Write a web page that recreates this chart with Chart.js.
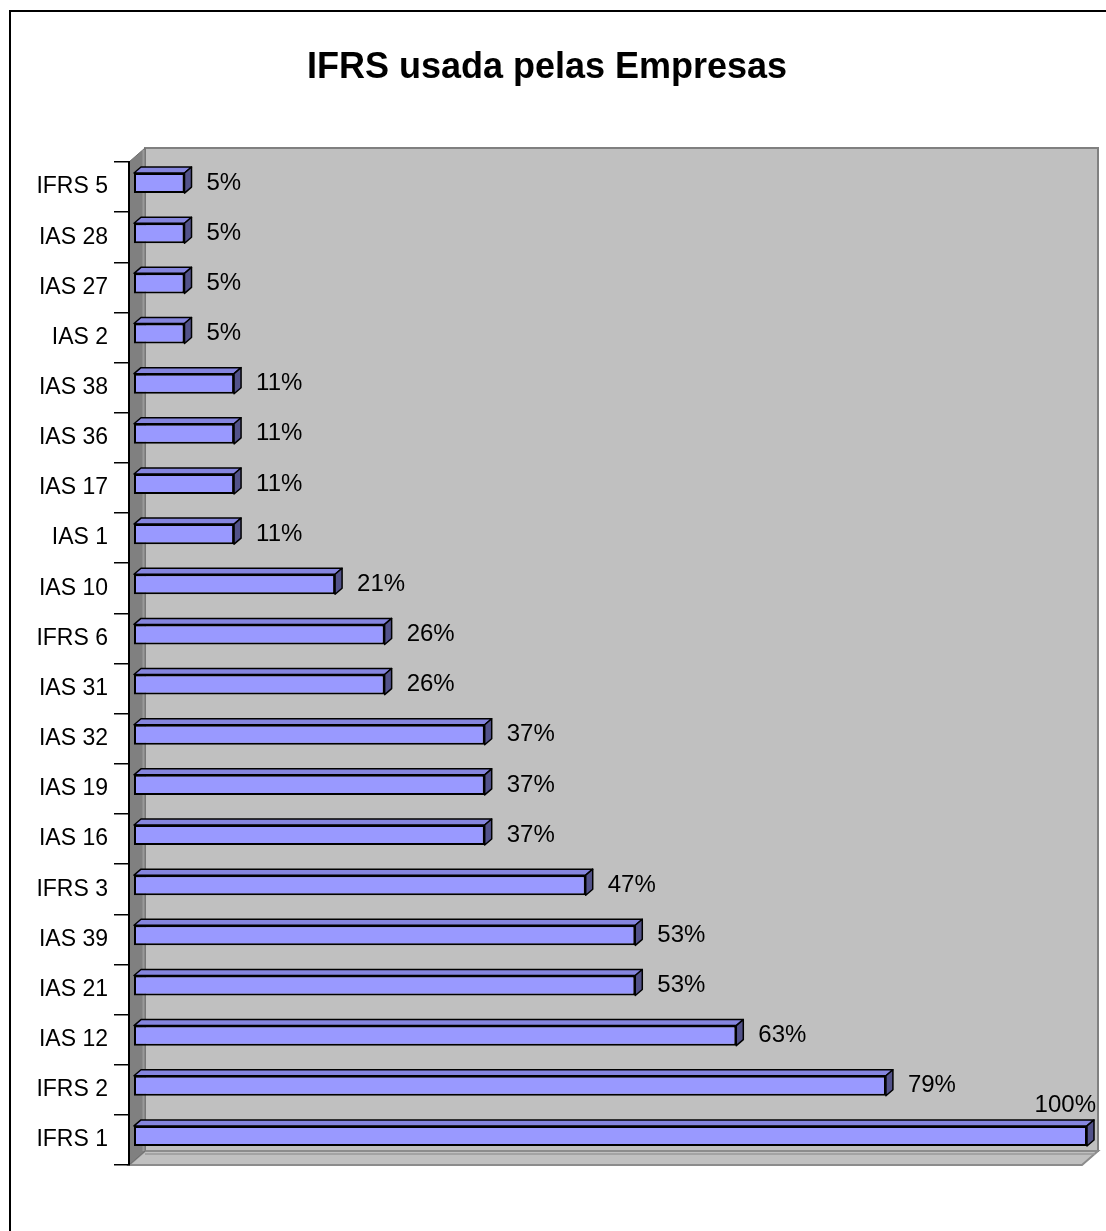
<!DOCTYPE html>
<html>
<head>
<meta charset="utf-8">
<script src="https://cdn.jsdelivr.net/npm/chart.js@4/dist/chart.umd.min.js"></script>
<style>
  html, body { margin: 0; padding: 0; background: #fff; overflow: hidden; }
  #wrap { position: absolute; left: 0; top: 0; width: 1106px; height: 1231px; }
  #frame { position: absolute; left: 9px; top: 10px; width: 1300px; height: 1400px;
           border: 2px solid #000; pointer-events: none; box-sizing: border-box; }
</style>
</head>
<body>
<div id="wrap"><canvas id="c" width="1106" height="1231"></canvas></div>
<div id="frame"></div>
<script>
// ---- data (top-to-bottom order as shown) ----
const chartTitle = 'IFRS usada pelas Empresas';
const categories = ['IFRS 5','IAS 28','IAS 27','IAS 2','IAS 38','IAS 36','IAS 17','IAS 1','IAS 10','IFRS 6',
                    'IAS 31','IAS 32','IAS 19','IAS 16','IFRS 3','IAS 39','IAS 21','IAS 12','IFRS 2','IFRS 1'];
const usagePct = [5.3, 5.3, 5.3, 5.3, 10.5, 10.5, 10.5, 10.5, 21.1, 26.3,
                  26.3, 36.8, 36.8, 36.8, 47.4, 52.6, 52.6, 63.2, 78.9, 100];

// ---- style ----
const FONT = 'Liberation Sans, Arial, sans-serif';
const WALL = { x: 16, y: -14 };
const SHIFT = { x: 5, y: -4 };
const BDEPTH = { x: 7, y: -6 };

const walls = {
  id: 'walls',
  afterLayout(chart) {
    if (chart.titleBlock) { chart.titleBlock.left += 6; chart.titleBlock.right += 6; }
  },
  beforeDraw(chart) {
    const { ctx } = chart;
    const { left, right, top, bottom } = chart.chartArea;
    ctx.save();
    // back wall
    ctx.fillStyle = '#C0C0C0';
    ctx.strokeStyle = '#808080';
    ctx.lineWidth = 2;
    ctx.fillRect(left + WALL.x, top + WALL.y, right - left, bottom - top);
    ctx.strokeRect(left + WALL.x, top + WALL.y, right - left, bottom - top);
    // floor
    ctx.beginPath();
    ctx.moveTo(left, bottom);
    ctx.lineTo(right, bottom);
    ctx.lineTo(right + WALL.x, bottom + WALL.y);
    ctx.lineTo(left + WALL.x, bottom + WALL.y);
    ctx.closePath();
    ctx.fillStyle = '#C0C0C0';
    ctx.fill();
    ctx.strokeStyle = '#8C8C8C';
    ctx.stroke();
    ctx.beginPath();
    ctx.moveTo(left + WALL.x, bottom + WALL.y + 3);
    ctx.lineTo(right + WALL.x - 3, bottom + WALL.y + 3);
    ctx.strokeStyle = '#9A9A9A';
    ctx.lineWidth = 1.5;
    ctx.stroke();
    // side wall
    ctx.beginPath();
    ctx.moveTo(left, top);
    ctx.lineTo(left + WALL.x, top + WALL.y);
    ctx.lineTo(left + WALL.x, bottom + WALL.y);
    ctx.lineTo(left, bottom);
    ctx.closePath();
    ctx.fillStyle = '#808080';
    ctx.fill();
    ctx.strokeStyle = '#6E6E6E';
    ctx.lineWidth = 1;
    ctx.stroke();
    ctx.beginPath();
    ctx.moveTo(left + WALL.x - 1.5, top + WALL.y + 2);
    ctx.lineTo(left + WALL.x - 1.5, bottom + WALL.y);
    ctx.strokeStyle = '#999999';
    ctx.lineWidth = 2;
    ctx.stroke();
    ctx.restore();
  },
  beforeDatasetsDraw(chart) {
    chart.ctx.save();
    chart.ctx.translate(SHIFT.x, SHIFT.y);
  },
  afterDatasetsDraw(chart) {
    const { ctx } = chart;
    const meta = chart.getDatasetMeta(0);
    const vals = chart.data.datasets[0].data;
    meta.data.forEach((el, i) => {
      const p = el.getProps(['x', 'y', 'base', 'height'], true);
      const t = p.y - p.height / 2, b = p.y + p.height / 2;
      const l = p.base, r = p.x;
      ctx.lineJoin = 'round';
      ctx.lineWidth = 1.5;
      ctx.strokeStyle = '#000';
      // top face
      ctx.beginPath();
      ctx.moveTo(l, t); ctx.lineTo(l + BDEPTH.x, t + BDEPTH.y);
      ctx.lineTo(r + BDEPTH.x, t + BDEPTH.y); ctx.lineTo(r, t); ctx.closePath();
      ctx.fillStyle = '#8585DE'; ctx.fill(); ctx.stroke();
      // side face
      ctx.beginPath();
      ctx.moveTo(r, t); ctx.lineTo(r + BDEPTH.x, t + BDEPTH.y);
      ctx.lineTo(r + BDEPTH.x, b + BDEPTH.y); ctx.lineTo(r, b); ctx.closePath();
      ctx.fillStyle = '#52528A'; ctx.fill(); ctx.stroke();
      // value label
      const txt = Math.round(vals[i]) + '%';
      ctx.font = '24px ' + FONT;
      ctx.fillStyle = '#000';
      ctx.textBaseline = 'middle';
      const w = ctx.measureText(txt).width;
      let tx = r + 22;
      const limit = chart.chartArea.right + 9;
      if (tx + w > limit) {
        ctx.textAlign = 'right';
        ctx.fillText(txt, limit, p.y - 31);
      } else {
        ctx.textAlign = 'left';
        ctx.fillText(txt, tx, p.y);
      }
    });
    ctx.restore();
  }
};

new Chart(document.getElementById('c'), {
  type: 'bar',
  data: {
    labels: categories,
    datasets: [{
      data: usagePct,
      backgroundColor: '#9999FF',
      borderColor: '#000',
      borderWidth: 2,
      borderSkipped: false,
      barPercentage: 0.4,
      categoryPercentage: 1
    }]
  },
  options: {
    indexAxis: 'y',
    responsive: false,
    animation: false,
    layout: { padding: { left: 0, right: 24, top: 0, bottom: 66 } },
    plugins: {
      legend: { display: false },
      tooltip: { enabled: false },
      title: {
        display: true,
        text: chartTitle,
        color: '#000',
        font: { family: FONT, size: 36, weight: 'bold', lineHeight: 1.2 },
        padding: { top: 46, bottom: 72.8 }
      }
    },
    scales: {
      x: { display: false, min: 0, max: 100 },
      y: {
        offset: true,
        afterFit(scale) { scale.width = 129; },
        border: { display: true, color: '#000', width: 2 },
        grid: { display: true, drawOnChartArea: false, drawTicks: true, tickLength: 15,
                color: '#000', lineWidth: 1.5, offset: true },
        ticks: { color: '#000', padding: 6, font: { family: FONT, size: 23 } }
      }
    }
  },
  plugins: [walls]
});
</script>
</body>
</html>
